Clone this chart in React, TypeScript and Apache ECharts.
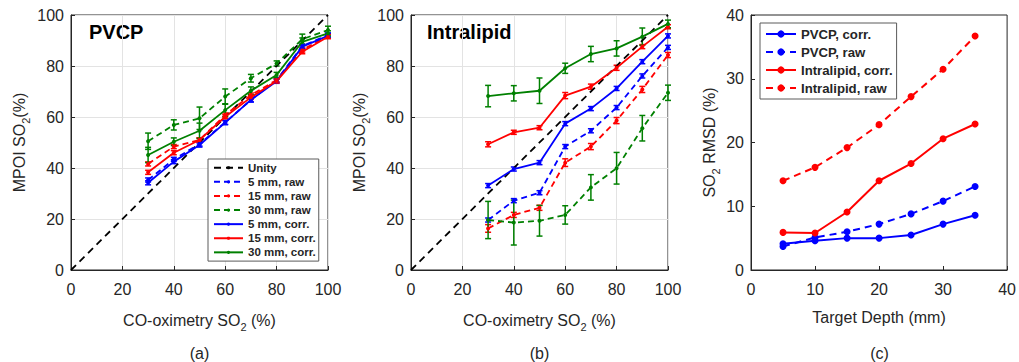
import React, { useEffect, useRef } from "react";
import * as echarts from "echarts";

const xs = [30, 40, 50, 60, 70, 80, 90, 100];
const unity = [[0, 0], [100, 100]];

// Panel (a) PVCP
const a5raw = [35.3, 43.4, 49.4, 57.9, 66.7, 74.5, 87.8, 92.2];
const a15raw = [41.6, 48.4, 51.0, 60.8, 68.6, 74.5, 86.3, 91.8];
const a30raw = [50.5, 56.9, 59.5, 68.0, 75.2, 81.0, 90.5, 94.1];
const a5corr = [34.2, 42.5, 49.0, 57.8, 66.7, 74.0, 87.6, 91.8];
const a15corr = [38.3, 46.0, 51.0, 60.1, 67.7, 74.1, 85.6, 91.5];
const a30corr = [45.1, 50.3, 54.6, 62.7, 70.3, 76.5, 89.5, 92.8];
const a30rawErr = [3.2, 2.0, 4.4, 3.0, 1.5, 1.0, 2.0, 1.5];
const a30corrErr = [3.0, 1.5, 3.0, 2.5, 1.5, 1.0, 1.5, 1.0];
const aSmallErr = [0.8, 0.8, 0.8, 0.8, 0.8, 0.8, 0.8, 0.8];

// Panel (b) Intralipid
const b5raw = [19.6, 27.2, 30.3, 48.4, 54.6, 63.7, 76.1, 87.3];
const b15raw = [16.3, 21.6, 24.4, 42.1, 48.4, 58.6, 70.8, 84.3];
const b30raw = [19.6, 18.6, 19.3, 21.6, 32.4, 39.9, 55.6, 69.5];
const b5corr = [33.1, 39.6, 42.1, 57.4, 63.3, 71.2, 81.7, 91.8];
const b15corr = [49.3, 54.0, 55.8, 68.4, 71.9, 79.3, 87.6, 95.4];
const b30corr = [68.2, 69.3, 70.3, 79.1, 84.7, 86.9, 91.5, 96.5];
const b30rawErr = [7.3, 8.8, 6.0, 3.6, 5.0, 6.2, 5.0, 3.0];
const b30corrErr = [4.2, 3.0, 5.0, 2.0, 3.0, 3.0, 3.4, 1.5];
const b15rawErr = [1.5, 1.0, 1.0, 1.5, 1.2, 1.2, 1.2, 1.0];
const b15corrErr = [1.0, 0.8, 0.8, 1.2, 1.0, 1.0, 0.8, 0.8];
const b5Err = [0.8, 0.8, 0.8, 0.8, 0.8, 0.8, 0.8, 0.8];

// Panel (c) RMSD
const depths = [5, 10, 15, 20, 25, 30, 35];
const cPcorr = [4.1, 4.6, 5.0, 5.0, 5.5, 7.2, 8.6];
const cPraw = [3.7, 5.1, 6.0, 7.2, 8.8, 10.8, 13.1];
const cIcorr = [5.9, 5.8, 9.1, 14.0, 16.7, 20.6, 22.9];
const cIraw = [14.0, 16.1, 19.2, 22.8, 27.2, 31.5, 36.7];

const legendA = ["Unity", "5 mm, raw", "15 mm, raw", "30 mm, raw", "5 mm, corr.", "15 mm, corr.", "30 mm, corr."];
const legendC = ["PVCP, corr.", "PVCP, raw", "Intralipid, corr.", "Intralipid, raw"];

const BLUE = "#0000ff";
const RED = "#ff0000";
const GREEN = "#008000";
const AX = "#262626";
const FONT = "Liberation Sans, Arial, sans-serif";

const pair = (x: number[], y: number[]) => x.map((v, i) => [v, y[i]]);
const errData = (x: number[], y: number[], e: number[]) => x.map((v, i) => [v, y[i] - e[i], y[i] + e[i]]);

function errRender(_p: any, api: any) {
  const x = api.value(0);
  const p1 = api.coord([x, api.value(1)]);
  const p2 = api.coord([x, api.value(2)]);
  const w = 3;
  const style = { stroke: api.visual("color"), lineWidth: 1.5 };
  return {
    type: "group",
    children: [
      { type: "line", shape: { x1: p1[0], y1: p1[1], x2: p2[0], y2: p2[1] }, style },
      { type: "line", shape: { x1: p1[0] - w, y1: p1[1], x2: p1[0] + w, y2: p1[1] }, style },
      { type: "line", shape: { x1: p2[0] - w, y1: p2[1], x2: p2[0] + w, y2: p2[1] }, style },
    ],
  };
}

const subRich = {
  s: { fontSize: 11, padding: [12, 0, 0, 0], fontFamily: FONT, color: AX },
};

function lineSeries(name: string, data: number[][], color: string, dash: any, idx: number, symbolSize = 4, width = 1.8) {
  return {
    type: "line",
    name,
    data,
    xAxisIndex: idx,
    yAxisIndex: idx,
    symbol: "circle",
    symbolSize,
    showSymbol: true,
    color,
    itemStyle: { color },
    lineStyle: { color, width, type: dash },
    emphasis: { disabled: true },
  };
}

function errSeries(x: number[], y: number[], e: number[], color: string, idx: number) {
  return {
    type: "custom",
    name: "err",
    xAxisIndex: idx,
    yAxisIndex: idx,
    data: errData(x, y, e),
    renderItem: errRender,
    itemStyle: { color },
    encode: { x: 0, y: [1, 2] },
    z: 3,
  };
}

function xAxisCfg(idx: number, max: number, interval: number, name: string, grid: boolean) {
  return {
    type: "value",
    gridIndex: idx,
    min: 0,
    max,
    interval,
    name,
    nameLocation: "middle",
    nameGap: 39,
    nameTextStyle: { fontSize: 16, color: AX, fontFamily: FONT, rich: subRich },
    axisLine: { show: true, lineStyle: { color: AX, width: 1 } },
    axisTick: { show: true, inside: true, length: 4, lineStyle: { color: AX } },
    axisLabel: { fontSize: 16, color: AX, fontFamily: FONT, margin: 11 },
    splitLine: { show: grid, lineStyle: { color: "#e3e3e3", width: 1 } },
  };
}

function yAxisCfg(idx: number, max: number, interval: number, name: string, grid: boolean, gap: number) {
  return {
    type: "value",
    gridIndex: idx,
    min: 0,
    max,
    interval,
    name,
    nameLocation: "middle",
    nameGap: gap,
    nameRotate: 90,
    nameTextStyle: { fontSize: 16, color: AX, fontFamily: FONT, rich: subRich },
    axisLine: { show: true, lineStyle: { color: AX, width: 1 } },
    axisTick: { show: true, inside: true, length: 4, lineStyle: { color: AX } },
    axisLabel: { fontSize: 16, color: AX, fontFamily: FONT, margin: 7 },
    splitLine: { show: grid, lineStyle: { color: "#e3e3e3", width: 1 } },
  };
}

export default function App() {
  const ref = useRef<HTMLDivElement>(null);
  useEffect(() => {
    document.body.style.margin = "0";
    const chart = echarts.init(ref.current!, undefined, { renderer: "svg" });
    const gridBase = { top: 15, width: 257, height: 255, show: true, borderColor: AX, borderWidth: 1, backgroundColor: "#fff" };
    const option: any = {
      animation: false,
      backgroundColor: "#fff",
      grid: [
        { ...gridBase, left: 71 },
        { ...gridBase, left: 411 },
        { ...gridBase, left: 751 },
      ],
      xAxis: [
        xAxisCfg(0, 100, 20, "CO-oximetry SO{s|2} (%)", true),
        xAxisCfg(1, 100, 20, "CO-oximetry SO{s|2} (%)", true),
        xAxisCfg(2, 40, 10, "Target Depth (mm)", false),
      ],
      yAxis: [
        yAxisCfg(0, 100, 20, "MPOI SO{s|2}(%)", true, 40),
        yAxisCfg(1, 100, 20, "MPOI SO{s|2}(%)", true, 40),
        yAxisCfg(2, 40, 10, "SO{s|2} RMSD (%)", false, 30),
      ],
      legend: [
        {
          data: legendA,
          orient: "vertical",
          left: 208,
          top: 159,
          itemWidth: 29,
          itemHeight: 4,
          itemGap: 0.6,
          padding: [2, 3, 2, 5],
          borderColor: "#5a5a5a",
          borderWidth: 1,
          backgroundColor: "#fff",
          textStyle: { fontSize: 11.5, lineHeight: 13.5, fontWeight: "bold", color: AX, fontFamily: FONT },
          selectedMode: false,
        },
        {
          data: legendC,
          orient: "vertical",
          left: 760,
          top: 23,
          itemWidth: 30,
          itemHeight: 9,
          itemGap: 2,
          padding: [3, 4, 3, 5],
          borderColor: "#5a5a5a",
          borderWidth: 1,
          backgroundColor: "#fff",
          textStyle: { fontSize: 13.2, lineHeight: 16, fontWeight: "bold", color: AX, fontFamily: FONT },
          selectedMode: false,
        },
      ],
      graphic: [
        { type: "text", left: 89, top: 22, style: { text: "PVCP", fontSize: 20, fontWeight: "bold", fill: "#000", fontFamily: FONT } },
        { type: "text", left: 427, top: 22, style: { text: "Intralipid", fontSize: 20, fontWeight: "bold", fill: "#000", fontFamily: FONT } },
        { type: "text", x: 199.5, y: 353, style: { text: "(a)", fontSize: 16, fill: AX, fontFamily: FONT, align: "center", verticalAlign: "middle" } },
        { type: "text", x: 539.5, y: 353, style: { text: "(b)", fontSize: 16, fill: AX, fontFamily: FONT, align: "center", verticalAlign: "middle" } },
        { type: "text", x: 879.5, y: 353, style: { text: "(c)", fontSize: 16, fill: AX, fontFamily: FONT, align: "center", verticalAlign: "middle" } },
      ],
      series: [
        // panel a
        { ...lineSeries("Unity", unity, "#000", [7, 5], 0, 0, 1.8), showSymbol: false, symbol: "none" },
        lineSeries("5 mm, raw", pair(xs, a5raw), BLUE, [6, 4], 0),
        lineSeries("15 mm, raw", pair(xs, a15raw), RED, [6, 4], 0),
        lineSeries("30 mm, raw", pair(xs, a30raw), GREEN, [6, 4], 0),
        lineSeries("5 mm, corr.", pair(xs, a5corr), BLUE, "solid", 0),
        lineSeries("15 mm, corr.", pair(xs, a15corr), RED, "solid", 0),
        lineSeries("30 mm, corr.", pair(xs, a30corr), GREEN, "solid", 0),
        errSeries(xs, a5raw, aSmallErr, BLUE, 0),
        errSeries(xs, a15raw, aSmallErr, RED, 0),
        errSeries(xs, a30raw, a30rawErr, GREEN, 0),
        errSeries(xs, a5corr, aSmallErr, BLUE, 0),
        errSeries(xs, a15corr, aSmallErr, RED, 0),
        errSeries(xs, a30corr, a30corrErr, GREEN, 0),
        // panel b
        { ...lineSeries("b Unity", unity, "#000", [7, 5], 1, 0, 1.8), showSymbol: false, symbol: "none" },
        lineSeries("b 5 mm, raw", pair(xs, b5raw), BLUE, [6, 4], 1),
        lineSeries("b 15 mm, raw", pair(xs, b15raw), RED, [6, 4], 1),
        lineSeries("b 30 mm, raw", pair(xs, b30raw), GREEN, [6, 4], 1),
        lineSeries("b 5 mm, corr.", pair(xs, b5corr), BLUE, "solid", 1),
        lineSeries("b 15 mm, corr.", pair(xs, b15corr), RED, "solid", 1),
        lineSeries("b 30 mm, corr.", pair(xs, b30corr), GREEN, "solid", 1),
        errSeries(xs, b5raw, b5Err, BLUE, 1),
        errSeries(xs, b15raw, b15rawErr, RED, 1),
        errSeries(xs, b30raw, b30rawErr, GREEN, 1),
        errSeries(xs, b5corr, b5Err, BLUE, 1),
        errSeries(xs, b15corr, b15corrErr, RED, 1),
        errSeries(xs, b30corr, b30corrErr, GREEN, 1),
        // panel c
        lineSeries("PVCP, corr.", pair(depths, cPcorr), BLUE, "solid", 2, 7, 2),
        lineSeries("PVCP, raw", pair(depths, cPraw), BLUE, [7, 5], 2, 7, 2),
        lineSeries("Intralipid, corr.", pair(depths, cIcorr), RED, "solid", 2, 7, 2),
        lineSeries("Intralipid, raw", pair(depths, cIraw), RED, [7, 5], 2, 7, 2),
      ],
    };
    chart.setOption(option);
    return () => chart.dispose();
  }, []);
  return <div ref={ref} style={{ width: 1019, height: 362 }} />;
}
